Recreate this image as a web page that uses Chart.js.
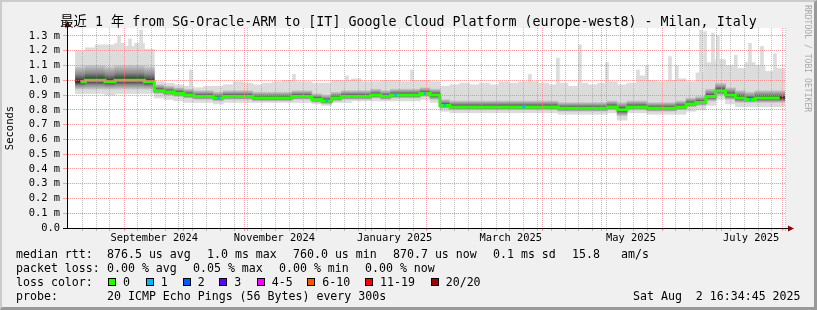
<!DOCTYPE html>
<html lang="en">
<head>
<meta charset="UTF-8">
<title>SmokePing - SG-Oracle-ARM to europe-west8</title>
<script src="https://cdn.jsdelivr.net/npm/chart.js"></script>
<style>
  body { margin: 0; background: #f0f0f0; }
  #wrap { position: relative; width: 817px; height: 310px; overflow: hidden; font-family: "DejaVu Sans Mono", monospace; }
  #c { position: absolute; left: 0; top: 0; }
  #title { position: absolute; left: 0; top: 14px; width: 817px; text-align: center; white-space: pre;
           font-family: "DejaVu Sans Mono", "Noto Sans CJK SC", monospace; font-size: 13.3px; line-height: 16px; color: #000; }
  #rrd { position: absolute; left: 803px; top: 5px; writing-mode: vertical-rl; font-size: 8.1px; line-height: 10px; color: #a8a8a8; white-space: pre; }
  .t { position: absolute; white-space: pre; font-size: 11.6px; line-height: 14px; color: #000; }
  .sw { position: absolute; width: 8px; height: 8px; box-sizing: border-box; border: 1px solid #000; }
  #frame { position: absolute; left: 0; top: 0; width: 817px; height: 310px; box-sizing: border-box; pointer-events: none;
           border-style: solid; border-width: 2px 3px 3px 2px; border-color: #cbcbcb #999 #999 #cbcbcb; }
</style>
</head>
<body>
<div id="wrap">
  <canvas id="c" width="817" height="310"></canvas>
  <div id="title">最近 1 年 from SG-Oracle-ARM to [IT] Google Cloud Platform (europe-west8) - Milan, Italy</div>
  <div id="rrd">RRDTOOL / TOBI OETIKER</div>

  <div class="t" style="left:16px;top:247px">median rtt:</div>
  <div class="t" style="left:107px;top:247px">876.5 us avg</div>
  <div class="t" style="left:207px;top:247px">1.0 ms max</div>
  <div class="t" style="left:293px;top:247px">760.0 us min</div>
  <div class="t" style="left:393px;top:247px">870.7 us now</div>
  <div class="t" style="left:493px;top:247px">0.1 ms sd</div>
  <div class="t" style="left:572px;top:247px">15.8</div>
  <div class="t" style="left:621px;top:247px">am/s</div>

  <div class="t" style="left:16px;top:261px">packet loss:</div>
  <div class="t" style="left:107px;top:261px">0.00 % avg</div>
  <div class="t" style="left:193px;top:261px">0.05 % max</div>
  <div class="t" style="left:279px;top:261px">0.00 % min</div>
  <div class="t" style="left:365px;top:261px">0.00 % now</div>

  <div class="t" style="left:16px;top:275px">loss color:</div>
  <div id="lossLegend"></div>

  <div class="t" style="left:16px;top:289px">probe:</div>
  <div class="t" style="left:107px;top:289px">20 ICMP Echo Pings (56 Bytes) every 300s</div>
  <div class="t" style="left:633px;top:289px">Sat Aug  2 16:34:45 2025</div>
  <div id="frame"></div>
</div>

<script>
// x values are days since 2024-08-01 00:00; the graph spans 2024-08-02 16:34 .. 2025-08-02 16:34
var xMin = 1.69;
var xMax = 366.69;

// bin centres (5-day bins)
var days = [8.5, 13.5, 18.5, 23.5, 28.5, 33.5, 38.5, 43.5, 48.5, 53.5, 58.5, 63.5,
  68.5, 73.5, 78.5, 83.5, 88.5, 93.5, 98.5, 103.5, 108.5, 113.5, 118.5, 123.5,
  128.5, 133.5, 138.5, 143.5, 148.5, 153.5, 158.5, 163.5, 168.5, 173.5, 178.5, 183.5,
  188.5, 193.5, 198.5, 203.5, 208.5, 213.5, 218.5, 223.5, 228.5, 233.5, 238.5, 243.5,
  248.5, 253.5, 258.5, 263.5, 268.5, 273.5, 278.5, 283.5, 288.5, 293.5, 298.5, 303.5,
  308.5, 313.5, 318.5, 323.5, 328.5, 333.5, 338.5, 343.5, 348.5, 353.5, 358.5, 363.5];

// median rtt (ms)
var med = [0.99, 1.00, 1.00, 0.99, 1.00, 1.00, 1.00, 0.99,
  0.93, 0.92, 0.91, 0.90, 0.89, 0.89, 0.88, 0.89,
  0.89, 0.89, 0.88, 0.88, 0.88, 0.88, 0.89, 0.89,
  0.87, 0.86, 0.88, 0.89, 0.89, 0.89, 0.90, 0.89,
  0.90, 0.90, 0.90, 0.91, 0.90, 0.83, 0.82, 0.82,
  0.82, 0.82, 0.82, 0.82, 0.82, 0.82, 0.82, 0.82,
  0.82, 0.81, 0.81, 0.81, 0.81, 0.81, 0.82, 0.80,
  0.82, 0.82, 0.81, 0.81, 0.81, 0.82, 0.84, 0.85,
  0.89, 0.93, 0.90, 0.88, 0.87, 0.88, 0.88, 0.88];

// smoke: lowest ping, lower dense edge, upper dense edge, highest ping (ms)
var lo = [0.91, 0.91, 0.91, 0.90, 0.91, 0.91, 0.91, 0.91,
  0.88, 0.87, 0.86, 0.85, 0.85, 0.85, 0.84, 0.85,
  0.85, 0.85, 0.85, 0.85, 0.85, 0.85, 0.85, 0.85,
  0.84, 0.83, 0.85, 0.85, 0.86, 0.86, 0.86, 0.86,
  0.86, 0.86, 0.86, 0.87, 0.85, 0.79, 0.78, 0.78,
  0.78, 0.78, 0.78, 0.78, 0.78, 0.78, 0.78, 0.78,
  0.78, 0.77, 0.77, 0.77, 0.77, 0.77, 0.78, 0.73,
  0.78, 0.78, 0.77, 0.77, 0.77, 0.77, 0.79, 0.80,
  0.83, 0.87, 0.84, 0.82, 0.82, 0.82, 0.82, 0.82];

var q1 = [0.94, 0.94, 0.94, 0.94, 0.94, 0.94, 0.94, 0.94,
  0.91, 0.90, 0.89, 0.88, 0.87, 0.87, 0.86, 0.87,
  0.87, 0.87, 0.86, 0.86, 0.86, 0.86, 0.87, 0.87,
  0.85, 0.84, 0.86, 0.87, 0.87, 0.87, 0.88, 0.87,
  0.88, 0.88, 0.88, 0.89, 0.87, 0.81, 0.80, 0.80,
  0.80, 0.80, 0.80, 0.80, 0.80, 0.80, 0.80, 0.80,
  0.80, 0.79, 0.79, 0.79, 0.79, 0.79, 0.80, 0.76,
  0.80, 0.80, 0.79, 0.79, 0.79, 0.80, 0.82, 0.83,
  0.86, 0.90, 0.87, 0.85, 0.85, 0.85, 0.85, 0.85];

var q3 = [1.09, 1.10, 1.10, 1.09, 1.10, 1.10, 1.10, 1.09,
  0.97, 0.96, 0.95, 0.94, 0.93, 0.93, 0.92, 0.93,
  0.93, 0.93, 0.92, 0.92, 0.92, 0.92, 0.93, 0.93,
  0.91, 0.90, 0.92, 0.93, 0.93, 0.93, 0.94, 0.93,
  0.94, 0.94, 0.94, 0.95, 0.94, 0.87, 0.86, 0.86,
  0.86, 0.86, 0.86, 0.86, 0.86, 0.86, 0.86, 0.86,
  0.86, 0.85, 0.85, 0.85, 0.85, 0.85, 0.86, 0.85,
  0.86, 0.86, 0.85, 0.85, 0.85, 0.86, 0.88, 0.89,
  0.94, 0.98, 0.95, 0.93, 0.92, 0.93, 0.93, 0.93];

var hi = [1.20, 1.22, 1.24, 1.24, 1.25, 1.23, 1.25, 1.21,
  0.99, 0.98, 0.97, 0.96, 0.95, 0.96, 0.96, 0.97,
  0.99, 0.98, 0.97, 0.98, 0.99, 1.00, 0.99, 0.99,
  0.98, 0.98, 1.00, 1.00, 1.01, 0.99, 0.99, 1.00,
  1.00, 0.99, 1.00, 1.00, 0.99, 0.96, 0.97, 0.98,
  0.97, 0.98, 0.97, 0.99, 0.98, 0.99, 0.99, 0.98,
  0.97, 0.98, 0.96, 0.98, 0.97, 0.98, 0.99, 0.97,
  0.98, 1.03, 1.00, 0.99, 1.00, 1.01, 0.99, 1.05,
  1.12, 1.14, 1.10, 1.08, 1.12, 1.10, 1.06, 1.08];

// lost pings per bin (0 = none)
var loss = [0, 0, 0, 0, 0, 0, 0, 0, 0, 0, 0, 0, 0, 0, 1, 0, 0, 0, 0, 0, 0, 0, 0, 0,
  0, 1, 0, 0, 0, 0, 0, 0, 1, 0, 0, 1, 0, 1, 0, 0, 0, 0, 0, 0, 0, 1, 0, 0,
  0, 0, 0, 0, 0, 0, 0, 0, 0, 0, 0, 0, 0, 0, 0, 0, 0, 0, 0, 0, 1, 0, 0, 0];

// single tall max-ping spikes
var spikeDays = [28.1, 33.7, 39.3, 64.6, 116.9, 143.8, 176.8, 236.7, 250.9, 262.1, 275.8, 291.5,
  296.1, 307.8, 311.3, 323.5, 325.6, 329.6, 332.1, 341.2, 348.4, 354.5, 361.1];
var spikeTops = [1.30, 1.28, 1.34, 1.07, 1.04, 1.03, 1.07, 1.04, 1.15, 1.24, 1.12, 1.07,
  1.10, 1.16, 1.10, 1.34, 1.33, 1.32, 1.30, 1.17, 1.25, 1.23, 1.18];
var spikeBase = 0.95;

var lossLabels = ['0', '1', '2', '3', '4-5', '6-10', '11-19', '20/20'];
var lossColors = ['#26ff00', '#00b8ff', '#0059ff', '#5e00ff', '#ff00ff', '#ff5500', '#ff0000', '#a10000'];

var yTicks = [0, 0.1, 0.2, 0.3, 0.4, 0.5, 0.6, 0.7, 0.8, 0.9, 1.0, 1.1, 1.2, 1.3];
var yMax = 1.354;

var monthStarts = [31, 61, 92, 122, 153, 184, 212, 243, 273, 304, 334, 365];
var labelDays = [46, 107, 168, 227, 288, 349];
var labelTexts = ['September 2024', 'November 2024', 'January 2025', 'March 2025', 'May 2025', 'July 2025'];

// legend swatches
var swX = [108, 145.7, 182.7, 219.3, 256.7, 307.3, 365, 430.7];
var legendHtml = '';
for (var i = 0; i < lossLabels.length; i++) {
  legendHtml += '<div class="sw" style="left:' + swX[i] + 'px;top:278px;background:' + lossColors[i] + '"></div>';
  legendHtml += '<div class="t" style="left:' + (swX[i] + 15) + 'px;top:275px">' + lossLabels[i] + '</div>';
}
document.getElementById('lossLegend').innerHTML = legendHtml;

// x ticks: weekly minor grid, monthly major grid, mid-month labels
var xTicks = [];
for (var d = 9.5; d <= xMax; d += 7) {
  var near = monthStarts.some(function (m) { return Math.abs(m - d) < 0.8; });
  if (!near) xTicks.push({ v: d, kind: 'week', label: '' });
}
monthStarts.forEach(function (m) { xTicks.push({ v: m, kind: 'month', label: '' }); });
labelDays.forEach(function (m, k) { xTicks.push({ v: m, kind: 'label', label: labelTexts[k] }); });
xTicks.sort(function (a, b) { return a.v - b.v; });

var MGRID = 'rgba(245,128,128,0.75)';
var GRID = 'rgba(140,140,140,0.55)';
var axisFont = { family: 'DejaVu Sans Mono', size: 10.4 };

function xy(arrA, arrB) {
  return days.map(function (dd, k) { return { x: dd, y: arrB ? [arrA[k], arrB[k]] : arrA[k] }; });
}

var framePlugin = {
  id: 'frame',
  beforeDraw: function (chart) {
    var ctx = chart.ctx, a = chart.chartArea;
    ctx.save();
    ctx.fillStyle = '#f0f0f0';
    ctx.fillRect(0, 0, chart.width, chart.height);
    ctx.fillStyle = '#ffffff';
    ctx.fillRect(a.left, a.top, a.right - a.left, a.bottom - a.top);
    ctx.restore();
  },
  afterDraw: function (chart) {
    var ctx = chart.ctx, a = chart.chartArea;
    ctx.save();
    ctx.strokeStyle = '#000';
    ctx.lineWidth = 1;
    ctx.beginPath();
    ctx.moveTo(a.right, a.bottom + 0.5);
    ctx.lineTo(a.right + 3, a.bottom + 0.5);
    ctx.moveTo(a.left + 0.5, a.top);
    ctx.lineTo(a.left + 0.5, a.top - 2);
    ctx.stroke();
    ctx.fillStyle = '#8b0000';
    ctx.beginPath();
    ctx.moveTo(a.right + 2, a.bottom - 2.5);
    ctx.lineTo(a.right + 8, a.bottom + 0.5);
    ctx.lineTo(a.right + 2, a.bottom + 3.5);
    ctx.closePath();
    ctx.fill();
    ctx.beginPath();
    ctx.moveTo(a.left - 2.5, a.top - 1);
    ctx.lineTo(a.left + 0.5, a.top - 7);
    ctx.lineTo(a.left + 3.5, a.top - 1);
    ctx.closePath();
    ctx.fill();
    ctx.restore();
  }
};

var ctx = document.getElementById('c').getContext('2d');
var chart = new Chart(ctx, {
  type: 'line',
  data: {
    datasets: [
      {
        type: 'line',
        label: 'median rtt',
        data: xy(med),
        borderColor: '#26ff00',
        borderWidth: 3,
        stepped: 'middle',
        pointStyle: 'rect',
        pointRadius: function (c) { return loss[c.dataIndex] ? 1.8 : 0; },
        pointBackgroundColor: function (c) { return lossColors[loss[c.dataIndex]]; },
        pointBorderWidth: 0,
        order: 0
      },
      {
        type: 'bar',
        label: 'dense smoke',
        data: xy(q1, q3),
        grouped: false,
        barThickness: 10,
        borderWidth: 0,
        backgroundColor: function (c) {
          var ch = c.chart;
          if (!ch.chartArea || c.type !== 'data') return '#909090';
          var ys = ch.scales.y, k = c.dataIndex;
          var top = ys.getPixelForValue(q3[k]), bot = ys.getPixelForValue(q1[k]), mid = ys.getPixelForValue(med[k]);
          if (!(bot > top)) return '#909090';
          var f = Math.min(Math.max((mid - top) / (bot - top), 0.05), 0.95);
          var g = ch.ctx.createLinearGradient(0, top, 0, bot);
          g.addColorStop(0, '#c8c8c8');
          g.addColorStop(f * 0.5, '#8a8a8a');
          g.addColorStop(f, '#2a2a2a');
          g.addColorStop(f + (1 - f) * 0.5, '#8a8a8a');
          g.addColorStop(1, '#c8c8c8');
          return g;
        },
        order: 1
      },
      {
        type: 'bar',
        label: 'spikes',
        data: spikeDays.map(function (dd, k) { return { x: dd, y: [spikeBase, spikeTops[k]] }; }),
        grouped: false,
        barThickness: 3,
        borderWidth: 0,
        backgroundColor: '#dcdcdc',
        order: 2
      },
      {
        type: 'bar',
        label: 'smoke',
        data: xy(lo, hi),
        grouped: false,
        barThickness: 10,
        borderWidth: 0,
        backgroundColor: '#dcdcdc',
        order: 3
      }
    ]
  },
  options: {
    responsive: false,
    animation: false,
    devicePixelRatio: 1,
    layout: { padding: { top: 28, right: 31, bottom: 0, left: 0 } },
    plugins: { legend: { display: false }, tooltip: { enabled: false }, title: { display: false } },
    scales: {
      x: {
        type: 'linear',
        min: xMin,
        max: xMax,
        offset: false,
        afterBuildTicks: function (s) { s.ticks = xTicks.map(function (t) { return { value: t.v }; }); },
        afterFit: function (s) { s.height = 82; },
        grid: {
          z: 1,
          offset: false,
          tickLength: 3,
          color: function (c) {
            var t = xTicks[c.index];
            if (!t) return 'rgba(0,0,0,0)';
            return t.kind === 'month' ? MGRID : (t.kind === 'week' ? GRID : 'rgba(0,0,0,0)');
          },
          tickColor: function (c) {
            var t = xTicks[c.index];
            if (!t) return 'rgba(0,0,0,0)';
            return t.kind === 'month' ? MGRID : (t.kind === 'week' ? GRID : 'rgba(0,0,0,0)');
          }
        },
        border: { display: true, color: '#000', width: 1, dash: [1, 1], z: 2 },
        ticks: {
          autoSkip: false,
          maxRotation: 0,
          minRotation: 0,
          padding: 1,
          color: '#000',
          font: axisFont,
          callback: function (v, i) { return xTicks[i] ? xTicks[i].label : ''; }
        }
      },
      y: {
        type: 'linear',
        min: 0,
        max: yMax,
        afterBuildTicks: function (s) { s.ticks = yTicks.map(function (v) { return { value: v }; }); },
        afterFit: function (s) { s.width = 67; },
        grid: {
          z: 1,
          tickLength: 4,
          color: function (c) { return c.tick && c.tick.value === 0 ? 'rgba(0,0,0,0)' : MGRID; },
          tickColor: function (c) { return c.tick && c.tick.value === 0 ? '#000' : MGRID; }
        },
        border: { display: true, color: '#000', width: 1, dash: [1, 1], z: 2 },
        ticks: {
          autoSkip: false,
          padding: 3,
          color: '#000',
          font: axisFont,
          callback: function (v) { return v === 0 ? '0.0' : v.toFixed(1) + ' m'; }
        },
        title: {
          display: true,
          text: 'Seconds',
          color: '#000',
          font: { family: 'DejaVu Sans Mono', size: 10.5 },
          padding: { top: 4, bottom: 0 }
        }
      }
    }
  },
  plugins: [framePlugin]
});
</script>
</body>
</html>
